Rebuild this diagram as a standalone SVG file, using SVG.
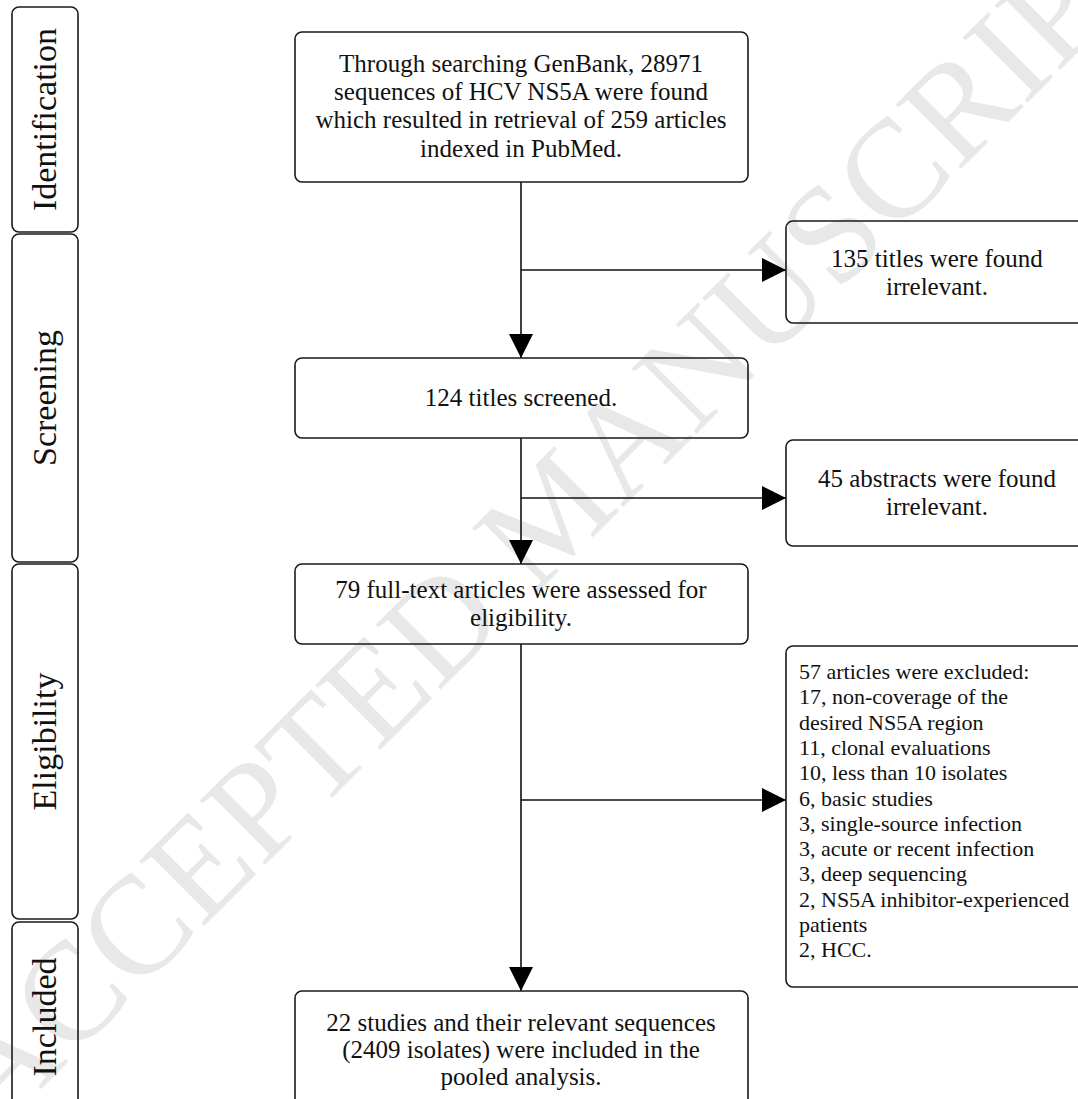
<svg xmlns="http://www.w3.org/2000/svg" width="1078" height="1099" viewBox="0 0 1078 1099">
<defs>
<style>
.bx{fill:none;stroke:#1a1a1a;stroke-width:1.6}
.t{font-family:"Liberation Serif","Times New Roman",serif;font-size:25px;fill:#111}
.tc{text-anchor:middle}
.ts{font-family:"Liberation Serif","Times New Roman",serif;font-size:22px;fill:#111}
.side{font-family:"Liberation Serif","Times New Roman",serif;font-size:34px;fill:#111;text-anchor:middle}
.ln{fill:none;stroke:#111;stroke-width:1.6}
.wm{font-family:"Liberation Serif","Times New Roman",serif;font-size:140px;fill:#e8e8e8;text-anchor:middle}
</style>
<marker id="ah" markerWidth="24" markerHeight="24" viewBox="0 0 24 24" refX="24" refY="12" orient="auto" markerUnits="userSpaceOnUse">
<path d="M0,0 L24,12 L0,24 Z" fill="#000"/>
</marker>
</defs>
<rect width="1078" height="1099" fill="#fff"/>
<text class="wm" transform="translate(585,545) rotate(-45)">ACCEPTED MANUSCRIPT</text>

<g id="side-identification">
<rect class="bx" x="12" y="7" width="66" height="225" rx="7"/>
<text class="side" transform="translate(56,119.5) rotate(-90)">Identification</text>
</g>
<g id="side-screening">
<rect class="bx" x="12" y="234" width="66" height="328" rx="7"/>
<text class="side" transform="translate(56,398) rotate(-90)">Screening</text>
</g>
<g id="side-eligibility">
<rect class="bx" x="12" y="564" width="66" height="355" rx="7"/>
<text class="side" transform="translate(56,741.5) rotate(-90)">Eligibility</text>
</g>
<g id="side-included">
<rect class="bx" x="12" y="922" width="66" height="200" rx="7"/>
<text class="side" transform="translate(56,1017) rotate(-90)">Included</text>
</g>

<g id="connectors">
<line class="ln" x1="521" y1="182" x2="521" y2="358" marker-end="url(#ah)"/>
<line class="ln" x1="521" y1="270" x2="786" y2="270" marker-end="url(#ah)"/>
<line class="ln" x1="521" y1="438" x2="521" y2="564" marker-end="url(#ah)"/>
<line class="ln" x1="521" y1="498" x2="786" y2="498" marker-end="url(#ah)"/>
<line class="ln" x1="521" y1="644" x2="521" y2="991" marker-end="url(#ah)"/>
<line class="ln" x1="521" y1="800" x2="786" y2="800" marker-end="url(#ah)"/>
</g>

<g id="n-search">
<rect class="bx" x="295" y="32" width="453" height="150" rx="7"/>
<text class="t tc" x="521" y="72">Through searching GenBank, 28971</text>
<text class="t tc" x="521" y="100">sequences of HCV NS5A were found</text>
<text class="t tc" x="521" y="128">which resulted in retrieval of 259 articles</text>
<text class="t tc" x="521" y="157">indexed in PubMed.</text>
</g>
<g id="n-screened">
<rect class="bx" x="295" y="358" width="453" height="80" rx="7"/>
<text class="t tc" x="521" y="406">124 titles screened.</text>
</g>
<g id="n-fulltext">
<rect class="bx" x="295" y="564" width="453" height="80" rx="7"/>
<text class="t tc" x="521" y="598">79 full-text articles were assessed for</text>
<text class="t tc" x="521" y="626">eligibility.</text>
</g>
<g id="n-included">
<rect class="bx" x="295" y="991" width="453" height="130" rx="7"/>
<text class="t tc" x="521" y="1031">22 studies and their relevant sequences</text>
<text class="t tc" x="521" y="1058">(2409 isolates) were included in the</text>
<text class="t tc" x="521" y="1085">pooled analysis.</text>
</g>
<g id="x-titles">
<rect class="bx" x="786" y="221" width="302" height="102" rx="7"/>
<text class="t tc" x="937" y="267">135 titles were found</text>
<text class="t tc" x="937" y="295">irrelevant.</text>
</g>
<g id="x-abstracts">
<rect class="bx" x="786" y="440" width="302" height="106" rx="7"/>
<text class="t tc" x="937" y="487">45 abstracts were found</text>
<text class="t tc" x="937" y="515">irrelevant.</text>
</g>
<g id="x-fulltext">
<rect class="bx" x="786" y="646" width="302" height="341" rx="7"/>
<text class="ts" x="799" y="679">57 articles were excluded:</text>
<text class="ts" x="799" y="704.3">17, non-coverage of the</text>
<text class="ts" x="799" y="729.6">desired NS5A region</text>
<text class="ts" x="799" y="754.9">11, clonal evaluations</text>
<text class="ts" x="799" y="780.2">10, less than 10 isolates</text>
<text class="ts" x="799" y="805.5">6, basic studies</text>
<text class="ts" x="799" y="830.8">3, single-source infection</text>
<text class="ts" x="799" y="856.1">3, acute or recent infection</text>
<text class="ts" x="799" y="881.4">3, deep sequencing</text>
<text class="ts" x="799" y="906.7">2, NS5A inhibitor-experienced</text>
<text class="ts" x="799" y="932">patients</text>
<text class="ts" x="799" y="957.3">2, HCC.</text>
</g>
</svg>
